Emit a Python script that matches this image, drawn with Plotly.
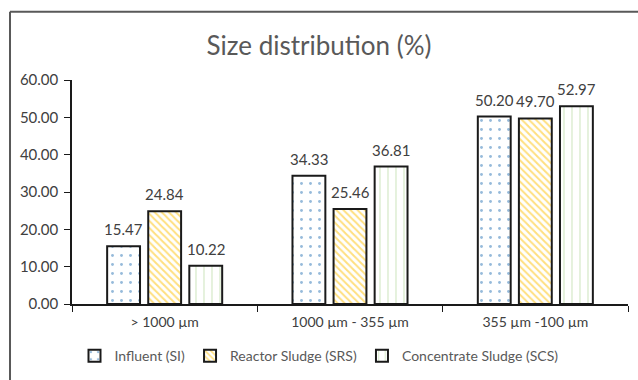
import plotly.graph_objects as go

# Size fractions and the share (%) of each sample in them
categories = ["> 1000 µm", "1000 µm - 355 µm", "355 µm -100 µm"]
series_names = ["Influent (SI)", "Reactor Sludge (SRS)", "Concentrate Sludge (SCS)"]
influent = [15.47, 34.33, 50.20]
reactor = [24.84, 25.46, 49.70]
concentrate = [10.22, 36.81, 52.97]
y_ticks = [0, 10, 20, 30, 40, 50, 60]

FONT = "Lato"
TXT = "#595959"
LABEL = "#404040"

# pattern look per series: (shape, colour, size, solidity)
patterns = [
    (".", "#2E75B6", 9, 0.08),
    ("\\", "#FFC000", 5, 0.4),
    ("|", "#A9D18E", 8, 0.15),
]
# horizontal offset (px) of each series' bar centre inside its group
slot_px = 41
offsets = [-slot_px, 0, slot_px]

fig = go.Figure()
for name, vals, (shape, col, size, sol) in zip(
    series_names, [influent, reactor, concentrate], patterns
):
    fig.add_trace(
        go.Bar(
            name=name,
            x=categories,
            y=vals,
            marker=dict(
                color="white",
                line=dict(color="#1a1a1a", width=2),
                pattern=dict(
                    shape=shape,
                    fgcolor=col,
                    bgcolor="white",
                    fillmode="overlay",
                    size=size,
                    solidity=sol,
                ),
            ),
        )
    )

# value labels above each bar
for vals, dx in zip([influent, reactor, concentrate], offsets):
    for cat, v in zip(categories, vals):
        fig.add_annotation(
            x=cat,
            y=v,
            text=f"{v:.2f}",
            showarrow=False,
            xshift=dx,
            yanchor="bottom",
            yshift=6,
            font=dict(family=FONT, size=15, color=LABEL),
        )

# outer chart frame (left and top edges)
frame = dict(color="#595959", width=2)
fig.add_shape(type="line", xref="paper", yref="paper",
              x0=-0.1115, x1=-0.1115, y0=-0.6, y1=1.305, line=frame)
fig.add_shape(type="line", xref="paper", yref="paper",
              x0=-0.1115, x1=1.2, y0=1.305, y1=1.305, line=frame)

fig.update_layout(
    width=638,
    height=380,
    margin=dict(l=72, r=10, t=80, b=76),
    paper_bgcolor="white",
    plot_bgcolor="white",
    barmode="group",
    bargap=0.335,
    bargroupgap=0.2,
    title=dict(
        text="Size distribution (%)",
        x=0.5,
        xref="container",
        xanchor="center",
        y=0.88,
        yref="container",
        yanchor="middle",
        font=dict(family=FONT, size=26, color=TXT),
    ),
    font=dict(family=FONT, color=TXT),
    showlegend=True,
    legend=dict(
        orientation="h",
        x=0.5,
        xref="container",
        xanchor="center",
        y=0.063,
        yref="container",
        yanchor="middle",
        font=dict(family=FONT, size=14, color=TXT),
        itemwidth=30,
        tracegroupgap=0,
    ),
    xaxis=dict(
        showline=True,
        linecolor="#1a1a1a",
        linewidth=1.5,
        ticks="outside",
        tickson="boundaries",
        ticklen=6,
        tickcolor="#1a1a1a",
        tickfont=dict(family=FONT, size=14, color=LABEL),
        ticklabelstandoff=4,
        showgrid=False,
    ),
    yaxis=dict(
        range=[0, 60],
        tickvals=y_ticks,
        tickformat=".2f",
        showline=True,
        linecolor="#1a1a1a",
        linewidth=1.5,
        ticks="outside",
        ticklen=6,
        tickcolor="#1a1a1a",
        tickfont=dict(family=FONT, size=15, color=LABEL),
        ticklabelstandoff=3,
        showgrid=False,
        zeroline=False,
    ),
)

fig.write_html("out.html")
